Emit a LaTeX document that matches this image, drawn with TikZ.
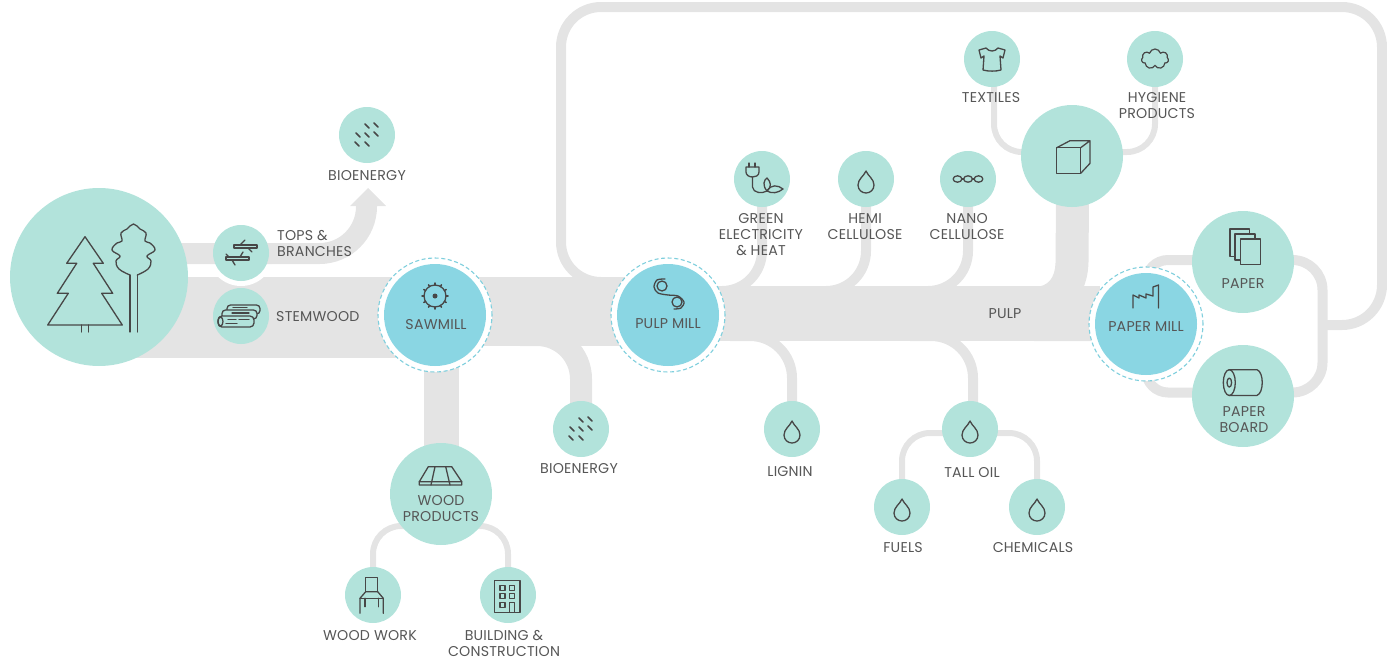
\documentclass[tikz,border=0pt]{standalone}
\usepackage{fontspec}
\setmainfont{Poppins}
\usetikzlibrary{backgrounds,shapes.symbols,calc}
\definecolor{teal}{HTML}{B2E3DB}
\definecolor{millblue}{HTML}{8AD6E3}
\definecolor{pipegray}{HTML}{E4E4E4}
\definecolor{ink}{HTML}{474747}
\definecolor{lab}{HTML}{565656}
\definecolor{dash}{HTML}{7FCFDD}
\tikzset{
  every picture/.append style={x=1pt,y=-1pt},
  small/.style={circle,fill=teal,minimum size=56pt,inner sep=0pt,outer sep=0pt},
  large/.style={circle,fill=teal,minimum size=102pt,inner sep=0pt,outer sep=0pt},
  mill/.style={circle,fill=millblue,minimum size=102pt,inner sep=0pt,outer sep=0pt},
  ring/.style={circle,fill=white,draw=dash,line width=1.1pt,dash pattern=on 4pt off 2.6pt,minimum size=114pt,inner sep=0pt,outer sep=0pt},
  lbl/.style={text=lab,font=\addfontfeatures{LetterSpace=1.5}\fontsize{14.2}{16}\selectfont,align=center,inner sep=0pt,yshift=-1pt},
  pipe/.style={draw=pipegray,line width=#1,line cap=butt},
  icon/.style={draw=ink,line width=1.3pt,line join=round,line cap=round},
}
\newcommand{\dropicon}[1]{\draw[icon,shift={(#1)}] (0,-10) .. controls (-2,-5) and (-8,-2) .. (-8,4) .. controls (-8,9) and (-4,12) .. (0,12) .. controls (4,12) and (8,9) .. (8,4) .. controls (8,-2) and (2,-5) .. (0,-10) -- cycle;}
\newcommand{\bioicon}[1]{\draw[icon,line width=1.6pt,shift={(#1)}] (-2,-11)--(2,-7) (7,-12)--(11,-8) (-11,-2)--(-7,2) (-2,-2)--(2,2) (7,-3)--(11,1) (-12,7)--(-8,11) (-2,7)--(2,11);}
\begin{document}
\begin{tikzpicture}
\useasboundingbox (0,0) rectangle (1387,659);
% nodes
\node[small] (tree) at (99,277) [minimum size=178pt] {};
\node[small] (tops) at (241,253) {};
\node[small] (stem) at (241,316) {};
\node[small] (bioA) at (367,135) {};
\node[ring] (sawring) at (435,315) {};
\node[mill] (saw) at (435,315) {};
\node[ring] (pulpring) at (668,315) {};
\node[mill] (pulpm) at (668,315) {};
\node[ring] (paperring) at (1146,324) {};
\node[mill] (paperm) at (1146,324) {};
\node[large] (paper) at (1243,262) {};
\node[large] (board) at (1243,396) {};
\node[large] (cube) at (1072,156) {};
\node[small] (textiles) at (992,59) {};
\node[small] (hygiene) at (1155,59) {};
\node[small] (green) at (762,179) {};
\node[small] (hemi) at (866,179) {};
\node[small] (nano) at (968,179) {};
\node[small] (lignin) at (792,429) {};
\node[small] (tall) at (970,429) {};
\node[small] (fuels) at (902,507) {};
\node[small] (chem) at (1037,507) {};
\node[small] (bioB) at (581,429) {};
\node[large] (wood) at (441,494) {};
\node[small] (woodwork) at (373,595) {};
\node[small] (building) at (508,595) {};
% junctions on the bands
\coordinate (a0) at (110,317.5);
\coordinate (a1) at (435,317.5);
\coordinate (b0) at (435,311.5);
\coordinate (b1) at (668,311.5);
\coordinate (c0) at (668,313.5);
\coordinate (c1) at (1100,313.5);
\coordinate (jg) at (700,291);
\coordinate (jh) at (800,291);
\coordinate (jn) at (900,291);
\coordinate (jl) at (730,336);
\coordinate (jt) at (910,336);
\coordinate (jb) at (520,335);
\coordinate (jw1) at (420,526);
\coordinate (jw2) at (460,526);
\coordinate (jf) at (950,433);
\coordinate (jc) at (990,433);
\coordinate (jp) at (1243,260);
\coordinate (jr) at (1243,392.5);
\coordinate (jpc) at (1322.5,260);
\coordinate (jrc) at (1322.5,392.5);
\coordinate (ja) at (180,253.5);
\coordinate (jo) at (366.5,206);
\coordinate (ll) at (620,282);
\coordinate (lj) at (1322,325);
\begin{pgfonlayer}{background}
  \draw[pipe=81pt] (a0) -- (a1);
  \draw[pipe=69pt] (b0) -- (b1);
  \draw[pipe=55pt] (c0) -- (c1);
  % white gap under the tops circle
  \fill[white] (tops) circle (33pt);
  \draw[pipe=21pt,rounded corners=47pt] (ja) -| (jo);
  \fill[pipegray] (368,188) -- (386,206) -- (350,206) -- cycle;
  % stem to cube
  \fill[pipegray] (1056,200) -- (1055.5,263) .. controls (1055,278) and (1048,287) .. (1034,287) -- (1034,341) -- (1100,341) -- (1100,305) -- (1073,305) .. controls (1083,292) and (1088,280) .. (1088.5,262) -- (1089,200) -- cycle;
  \draw[pipe=35pt] (wood.center) -- (wood.center |- saw.center);
  \draw[pipe=10pt,rounded corners=40pt] (green.center) |- (jg);
  \draw[pipe=10pt,rounded corners=40pt] (hemi.center) |- (jh);
  \draw[pipe=10pt,rounded corners=40pt] (nano.center) |- (jn);
  \draw[pipe=10pt,rounded corners=42pt] (lignin.center) |- (jl);
  \draw[pipe=10pt,rounded corners=42pt] ([xshift=3pt]tall.center) |- (jt);
  \draw[pipe=22pt,rounded corners=44pt] (bioB.center) |- (jb);
  \draw[pipe=6pt,rounded corners=28pt] (woodwork.center) |- (jw1);
  \draw[pipe=6pt,rounded corners=28pt] (building.center) |- (jw2);
  \draw[pipe=6pt,rounded corners=28pt] (fuels.center) |- (jf);
  \draw[pipe=6pt,rounded corners=28pt] (chem.center) |- (jc);
  \draw[pipe=6pt,rounded corners=28pt] ([xshift=2pt]textiles.center) |- ([yshift=4pt]cube.center);
  \draw[pipe=6pt,rounded corners=28pt] (hygiene.center) |- ([yshift=4pt]cube.center);
  \draw[pipe=10pt,rounded corners=22pt] (paperm.center) |- (jp);
  \draw[pipe=10pt,rounded corners=22pt] (paperm.center) |- (jr);
  \draw[pipe=10pt,rounded corners=30pt] (jp) -- (jpc) -- (jrc) -- (jr);
  \draw[pipe=10pt,rounded corners=40pt] (ll) -| (561,7) -| (1382,325) -- (lj);
\end{pgfonlayer}
% labels
\node[lbl,align=left,anchor=west] (t1) at (277,242) {TOPS \&\\BRANCHES};
\node[lbl,anchor=west] (t2) at (276,316) {STEMWOOD};
\node[lbl] (t3) at (367,175) {BIOENERGY};
\node[lbl] (t4) at (436,324) {SAWMILL};
\node[lbl] (t5) at (579,468) {BIOENERGY};
\node[lbl] (t6) at (441,507.5) {WOOD\\PRODUCTS};
\node[lbl] (t7) at (370,635) {WOOD WORK};
\node[lbl] (t8) at (504,642.5) {BUILDING \&\\CONSTRUCTION};
\node[lbl] (t9) at (668,323) {PULP MILL};
\node[lbl] (t10) at (761,234) {GREEN\\ELECTRICITY\\\& HEAT};
\node[lbl] (t11) at (865,226) {HEMI\\CELLULOSE};
\node[lbl] (t12) at (967,226) {NANO\\CELLULOSE};
\node[lbl] (t13) at (1005,313) {PULP};
\node[lbl] (t14) at (991,97) {TEXTILES};
\node[lbl] (t15) at (1157,105) {HYGIENE\\PRODUCTS};
\node[lbl] (t16) at (1146,326) {PAPER MILL};
\node[lbl] (t17) at (1243,283) {PAPER};
\node[lbl] (t18) at (1244,419) {PAPER\\BOARD};
\node[lbl] (t19) at (790,471) {LIGNIN};
\node[lbl] (t20) at (972,472) {TALL OIL};
\node[lbl] (t21) at (903,547) {FUELS};
\node[lbl] (t22) at (1033,547) {CHEMICALS};
% tree icons
\draw[icon] (85,236.7) -- (103.3,263.3) -- (93.3,263.3) -- (112.7,293.3) -- (101.7,293.3) -- (122.3,325) -- (47.7,325) -- (68.3,293.3) -- (57.3,293.3) -- (76.7,263.3) -- (66.7,263.3) -- cycle;
\draw[icon] (81.5,325) -- (81.5,332) (88.5,325) -- (88.5,332);
\draw[icon] (130,332) -- (130,275) (137.3,332) -- (137.3,275);
\draw[icon] plot[smooth,tension=0.7] coordinates {(130,275) (119,269) (116,261) (120,256) (112,250) (117,243) (122,241) (121,233) (127,229) (133.5,224) (140,229) (146,233) (145,241) (150,243) (155,250) (147,256) (151,261) (148,269) (137.3,275)};
% tops & branches
\begin{scope}[shift={(241,253)}]
 \draw[icon] (-7,-8) rectangle (16,-5) (-15,4) rectangle (8,7);
 \draw[icon] (-1,-8) -- (4,-13) (7,-5) -- (11,-1) (-1,4) -- (2,-1) (-9,7) -- (-6,12) (-12,4) -- (-15,1);
\end{scope}
% logs
\begin{scope}[shift={(241,316)}]
 \draw[icon,fill=teal,rounded corners=3.5pt] (-14,-11) rectangle (19,-2);
 \draw[icon,fill=teal,rounded corners=3.5pt] (-19,-6) rectangle (16,3);
 \draw[icon,fill=teal,rounded corners=4pt] (-23,0) rectangle (13,11);
 \draw[icon] (-20.5,5.5) ellipse (2.5pt and 4.5pt);
 \draw[icon] (-8,-8.5) -- (6,-8.5) (-9,-3) -- (8,-3) (-13,3.5) -- (-5,3.5) (-2,3.5) -- (8,3.5) (-15,7.5) -- (-4,7.5);
\end{scope}
\bioicon{367,135}
\bioicon{581,429}
% sawmill
\begin{scope}[shift={(435,296)}]
 \draw[icon] (0,0) circle (11pt);
 \fill[ink] (0,0) circle (2.5pt);
 \foreach \t in {0,30,...,330} \draw[icon,line width=1.5pt] (\t:11) -- (\t:13);
\end{scope}
% pulp mill
\draw[icon] (662,286) circle (5pt) (677,302) circle (5pt);
\draw[icon] plot[smooth] coordinates {(665,279) (657,280) (654,287) (658,293) (668,295) (678,296) (684,302) (681,308) (674,309)};
% green electricity
\begin{scope}[shift={(762,179)}]
 \draw[icon] (-16,-12) -- (-3,-12) -- (-3,-7) .. controls (-3,-3) and (-7,-2) .. (-9.5,-2) .. controls (-13,-2) and (-16,-4) .. (-16,-7) -- cycle;
 \draw[icon] (-13,-12) -- (-13,-16) (-7,-12) -- (-7,-16);
 \draw[icon] (-9.5,-2) -- (-9.5,8) .. controls (-9,14) and (0,15) .. (5,12);
 \draw[icon] (5,12) .. controls (0,6) and (2,1) .. (5,-1) .. controls (9,3) and (10,8) .. (5,12);
 \draw[icon] (5,12) .. controls (9,5) and (16,6) .. (21,10) .. controls (16,14) and (10,15) .. (5,12);
\end{scope}
\dropicon{866,181}
\dropicon{792,431}
\dropicon{970,431}
\dropicon{902,509}
\dropicon{1037,509}
% nano
\begin{scope}[shift={(968,179)}]
 \draw[icon] (-10.5,0) ellipse (4.4pt and 3.2pt) (0,0) ellipse (4.4pt and 3.2pt) (10.5,0) ellipse (4.4pt and 3.2pt);
 \draw[icon] (-6.1,0) -- (-4.4,0) (4.4,0) -- (6.1,0);
\end{scope}
% cube
\draw[icon] (1056.7,147.7) rectangle (1080.7,173.3);
\draw[icon] (1056.7,147.7) -- (1070,140.7) -- (1090,140.7) -- (1090,163.3) -- (1080.7,173.3) (1080.7,147.7) -- (1090,140.7);
% shirt
\begin{scope}[shift={(992,59)}]
 \draw[icon] (-6,-11) .. controls (-3,-7) and (3,-7) .. (6,-11) -- (13,-9) -- (11,-1) -- (8,-3) -- (9,11) .. controls (4,12.5) and (-4,12.5) .. (-9,11) -- (-8,-3) -- (-11,-1) -- (-13,-9) -- cycle;
\end{scope}
% cloud
\node[cloud,draw=ink,line width=1.2pt,cloud puffs=7,cloud puff arc=150,aspect=1.3,minimum width=27pt,minimum height=20pt,inner sep=0pt] (cloudicon) at (1155,59) {};
% paper
\foreach \xa/\ya/\xb/\yb in {1230/229/1249.3/256.7,1235/234/1255/260,1240.7/239/1260.7/264.3}
  \draw[icon,fill=teal] (\xa,\ya) rectangle (\xb,\yb);
% roll
\draw[icon] (1229.3,369.7) -- (1257,369.7) .. controls (1264,372) and (1264,393) .. (1257,395.4) -- (1229.3,395.4);
\draw[icon] (1229.3,382.6) ellipse (6pt and 12.9pt) (1229.3,382.6) ellipse (2.3pt and 4.5pt);
% paper mill
\draw[icon] (1133,308) -- (1133,295) -- (1139,298) -- (1139,295) -- (1146,298) -- (1146,294) -- (1153,296) -- (1153,287) -- (1158.5,285) -- (1158.5,308);
% wood products
\draw[icon] (428.3,466.7) -- (451.7,466.7) -- (461.7,481.7) -- (461.7,485) -- (419.3,485) -- (419.3,481.7) -- cycle;
\draw[icon] (419.3,481.7) -- (461.7,481.7) (435,466.7) -- (431,485) (445.7,466.7) -- (450,485);
% chair
\draw[icon] (365.7,591.7) -- (365.7,577.3) -- (377.7,577.3) -- (377.7,591.7);
\draw[icon] (360,613.3) -- (360,598.3) -- (365.7,591.7) -- (377.7,591.7) -- (383.3,598.3) -- (383.3,613.3);
\draw[icon] (360,598.3) -- (383.3,598.3) (365,598.3) -- (365,606.7) (378.3,598.3) -- (378.3,606.7);
% building
\draw[icon] (494.3,580.7) rectangle (520,612.3);
\foreach \xa/\ya in {500/585.7,509.3/585.7,500/593.3,509.3/593.3,500/602.7}
  \draw[icon] (\xa,\ya) rectangle (\xa+5,\ya+5);
\draw[icon] (509.3,612.3) -- (509.3,602.7) -- (514.3,602.7) -- (514.3,612.3);
\end{tikzpicture}
\end{document}
